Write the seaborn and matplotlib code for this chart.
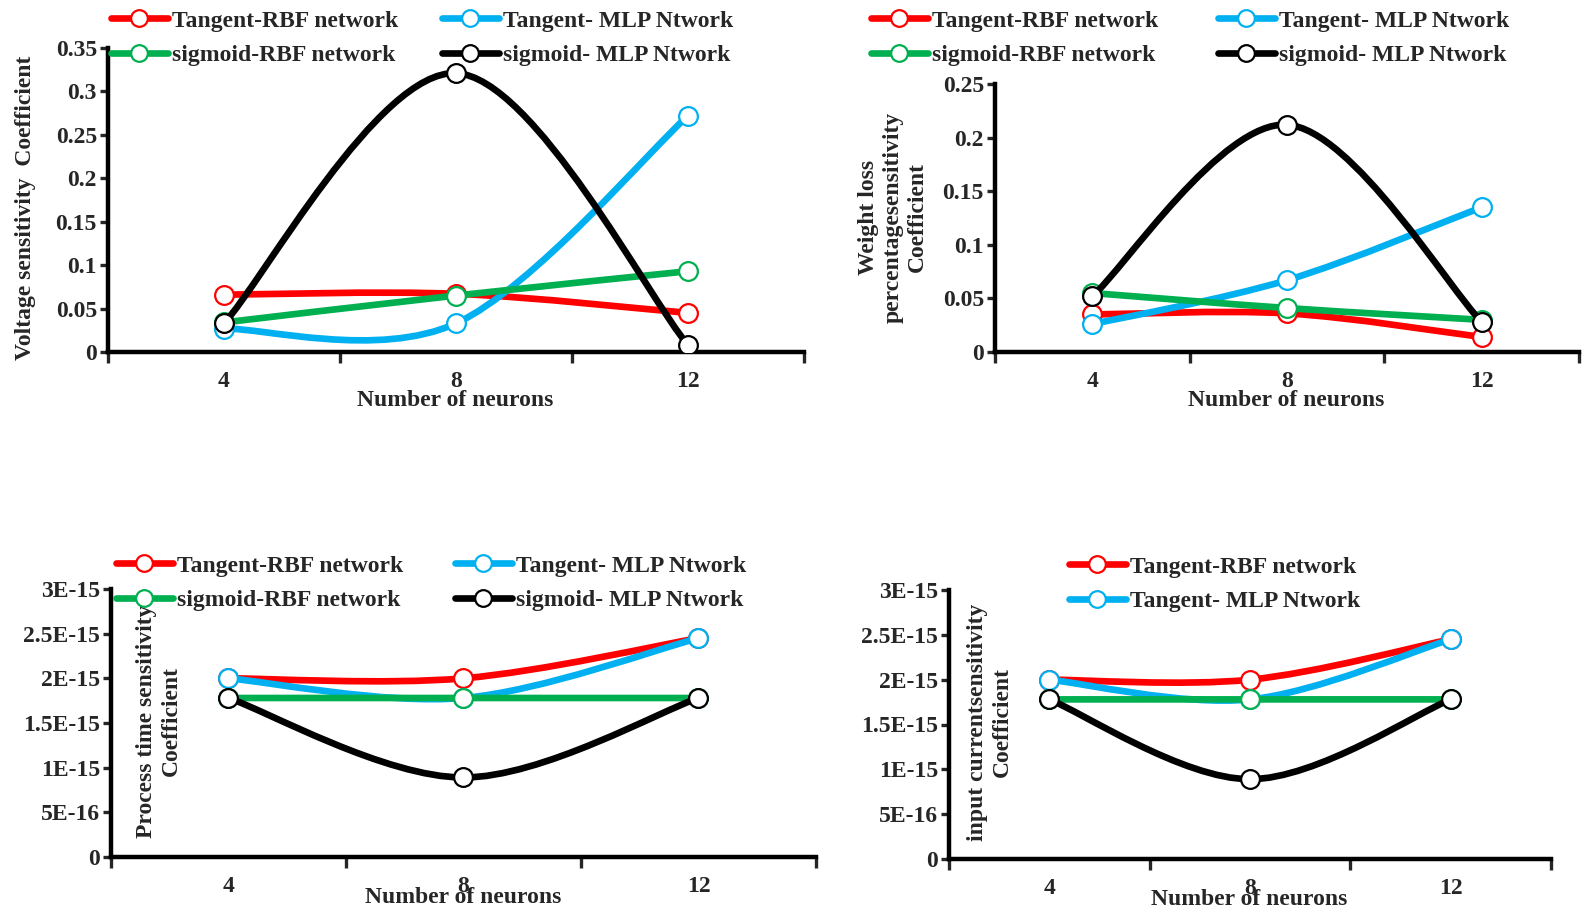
import numpy as np
import matplotlib
matplotlib.use("Agg")
import matplotlib.pyplot as plt
from matplotlib.path import Path
from matplotlib.patches import PathPatch
from matplotlib.lines import Line2D
import seaborn as sns
import pandas as pd

# ---------------- data ----------------
neurons = [4, 8, 12]
series_names = ["Tangent-RBF network", "Tangent- MLP Ntwork",
                "sigmoid-RBF network", "sigmoid- MLP Ntwork"]
series_colors = ["#FF0000", "#00B0F0", "#00B050", "#000000"]

# Panel 1: Voltage sensitivity coefficient
volt_tan_rbf = [0.066, 0.067, 0.045]
volt_tan_mlp = [0.027, 0.033, 0.272]
volt_sig_rbf = [0.034, 0.065, 0.093]
volt_sig_mlp = [0.033, 0.321, 0.008]

# Panel 2: Weight loss percentage sensitivity coefficient
wl_tan_rbf = [0.035, 0.036, 0.014]
wl_tan_mlp = [0.026, 0.067, 0.135]
wl_sig_rbf = [0.055, 0.041, 0.030]
wl_sig_mlp = [0.052, 0.212, 0.028]

# Panel 3: Process time sensitivity coefficient
pt_tan_rbf = [2.0e-15, 2.0e-15, 2.45e-15]
pt_tan_mlp = [2.0e-15, 1.78e-15, 2.45e-15]
pt_sig_rbf = [1.78e-15, 1.78e-15, 1.78e-15]
pt_sig_mlp = [1.78e-15, 0.89e-15, 1.78e-15]

# Panel 4: Input current sensitivity coefficient
ic_tan_rbf = [2.0e-15, 2.0e-15, 2.45e-15]
ic_tan_mlp = [2.0e-15, 1.78e-15, 2.45e-15]
ic_sig_rbf = [1.78e-15, 1.78e-15, 1.78e-15]
ic_sig_mlp = [1.78e-15, 0.89e-15, 1.78e-15]

yticks_small1 = [0, 0.05, 0.1, 0.15, 0.2, 0.25, 0.3, 0.35]
yticklabels1 = ["0", "0.05", "0.1", "0.15", "0.2", "0.25", "0.3", "0.35"]
yticks_small2 = [0, 0.05, 0.1, 0.15, 0.2, 0.25]
yticklabels2 = ["0", "0.05", "0.1", "0.15", "0.2", "0.25"]
yticks_e = [0, 5e-16, 1e-15, 1.5e-15, 2e-15, 2.5e-15, 3e-15]
yticklabels_e = ["0", "5E-16", "1E-15", "1.5E-15", "2E-15", "2.5E-15", "3E-15"]

# ---------------- style ----------------
sns.set_style("ticks")
plt.rcParams['font.family'] = ['Liberation Serif', 'DejaVu Serif']
plt.rcParams['font.weight'] = 'bold'
plt.rcParams['axes.labelweight'] = 'bold'

W, H = 1585, 913
fig = plt.figure(figsize=(W / 100, H / 100), dpi=100)

FS = 17
LW = 4.8
MS = 13.5
MEW = 1.6


def smooth_path(xs, ys):
    """Excel-like smoothed curve (Catmull-Rom Bezier) through data points."""
    pts = np.column_stack([xs, ys]).astype(float)
    n = len(pts)
    verts = [pts[0]]
    codes = [Path.MOVETO]
    for i in range(n - 1):
        p0 = pts[i - 1] if i > 0 else pts[i]
        p1 = pts[i]
        p2 = pts[i + 1]
        p3 = pts[i + 2] if i + 2 < n else pts[i + 1]
        c1 = p1 + (p2 - p0) / 6.0
        c2 = p2 - (p3 - p1) / 6.0
        verts += [c1, c2, p2]
        codes += [Path.CURVE4] * 3
    return Path(verts, codes)


def draw_panel(ax, data, yticks, yticklabels, ymax):
    xpos = np.arange(len(neurons))
    for k, (vals, color) in enumerate(zip(data, series_colors)):
        z = 3 + k
        patch = PathPatch(smooth_path(xpos, vals), fill=False, edgecolor=color,
                          lw=LW, capstyle='round', joinstyle='round',
                          transform=ax.transData, zorder=z)
        ax.add_patch(patch)
        df = pd.DataFrame({"x": xpos, "y": vals})
        sns.lineplot(data=df, x="x", y="y", ax=ax, color=color, marker='o',
                     markersize=MS, markerfacecolor='white',
                     markeredgecolor=color, markeredgewidth=MEW,
                     linestyle='', sort=False, errorbar=None, zorder=z + 0.5)
    ax.set_xlim(-0.5, 2.5)
    ax.set_ylim(0, ymax)
    ax.set_xticks(xpos)
    ax.set_xticklabels([str(v) for v in neurons], fontsize=FS, fontweight='bold')
    ax.set_xticks([-0.5, 0.5, 1.5, 2.5], minor=True)
    ax.tick_params(axis='x', which='major', length=0, pad=14)
    ax.tick_params(axis='x', which='minor', length=8, width=2.4, direction='out')
    ax.set_yticks(yticks)
    ax.set_yticklabels(yticklabels, fontsize=FS, fontweight='bold')
    ax.tick_params(axis='y', length=6, width=2.4, direction='out', pad=2)
    ax.set_xlabel("")
    ax.set_ylabel("")
    for s in ['top', 'right']:
        ax.spines[s].set_visible(False)
    for s in ['left', 'bottom']:
        ax.spines[s].set_linewidth(3.2)
        ax.spines[s].set_color('black')
    ax.set_facecolor('none')


def fx(px):
    return px / W


def fy(py):
    return 1 - py / H


ax1 = fig.add_axes([fx(108), fy(352), fx(804 - 108), (352 - 48) / H])
ax2 = fig.add_axes([fx(995), fy(352), fx(1579 - 995), (352 - 84) / H])
ax3 = fig.add_axes([fx(111), fy(857), fx(816 - 111), (857 - 589) / H])
ax4 = fig.add_axes([fx(949), fy(859), fx(1551 - 949), (859 - 590) / H])

draw_panel(ax1, [volt_tan_rbf, volt_tan_mlp, volt_sig_rbf, volt_sig_mlp],
           yticks_small1, yticklabels1, 0.35)
draw_panel(ax2, [wl_tan_rbf, wl_tan_mlp, wl_sig_rbf, wl_sig_mlp],
           yticks_small2, yticklabels2, 0.25)
draw_panel(ax3, [pt_tan_rbf, pt_tan_mlp, pt_sig_rbf, pt_sig_mlp],
           yticks_e, yticklabels_e, 3e-15)
draw_panel(ax4, [ic_tan_rbf, ic_tan_mlp, ic_sig_rbf, ic_sig_mlp],
           yticks_e, yticklabels_e, 3e-15)

# axis titles
fig.text(fx(455), fy(400), "Number of neurons", ha='center', va='center', fontsize=FS, fontweight='bold')
fig.text(fx(1286), fy(400), "Number of neurons", ha='center', va='center', fontsize=FS, fontweight='bold')
fig.text(fx(463), fy(897), "Number of neurons", ha='center', va='center', fontsize=FS, fontweight='bold')
fig.text(fx(1249), fy(899), "Number of neurons", ha='center', va='center', fontsize=FS, fontweight='bold')

fig.text(fx(26), fy(208), "Voltage sensitivity  Coefficient", rotation=90,
         ha='center', va='center', fontsize=FS, fontweight='bold')
fig.text(fx(893), fy(217), "Weight loss\npercentagesensitivity\nCoefficient", rotation=90,
         ha='center', va='center', fontsize=FS, fontweight='bold', multialignment='center',
         linespacing=1.2)
fig.text(fx(159), fy(721), "Process time sensitivity\nCoefficient", rotation=90,
         ha='center', va='center', fontsize=FS, fontweight='bold', multialignment='center',
         linespacing=1.2)
fig.text(fx(990), fy(722), "input currentsensitivity\nCoefficient", rotation=90,
         ha='center', va='center', fontsize=FS, fontweight='bold', multialignment='center',
         linespacing=1.2)


# legends
def handle(i):
    c = series_colors[i]
    return Line2D([], [], color=c, lw=LW, marker='o', markersize=MS - 1.5,
                  markerfacecolor='white', markeredgecolor=c, markeredgewidth=MEW)


def add_legend(idx, x_px, y_row1_px):
    fs_px = FS / 0.72
    leg = fig.legend([handle(i) for i in idx], [series_names[i] for i in idx],
                     loc='upper left', bbox_to_anchor=(fx(x_px), fy(y_row1_px - fs_px * 0.38)),
                     frameon=False, fontsize=FS, handlelength=2.4, handletextpad=0.2,
                     labelspacing=0.56, borderpad=0, borderaxespad=0)
    for t in leg.get_texts():
        t.set_fontweight('bold')
    return leg


add_legend([0, 2], 111, 19)
add_legend([1, 3], 442, 19)
add_legend([0, 2], 871, 19)
add_legend([1, 3], 1218, 19)
add_legend([0, 2], 116, 564)
add_legend([1, 3], 455, 564)
add_legend([0, 1], 1069, 565)

fig.savefig("out.png", dpi=100)
